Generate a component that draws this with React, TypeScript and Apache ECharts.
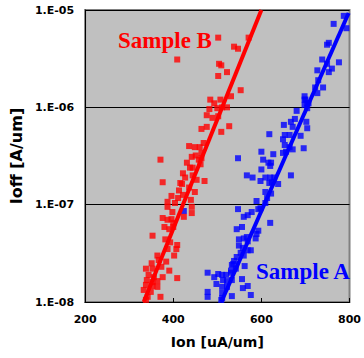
import React, { useEffect, useRef } from "react";
import * as echarts from "echarts";

// Sample A (blue): [Ion uA/um, Ioff A/um]
const sampleA: [number, number][] = [
  [787, 8.7e-6], [764, 7.2e-6], [793, 6.5e-6], [753, 4.6e-6], [749, 4.4e-6],
  [738, 3.1e-6], [776, 2.9e-6], [749, 2.8e-6], [727, 2.4e-6], [760, 2.5e-6],
  [753, 2.3e-6], [729, 1.9e-6], [740, 1.6e-6], [727, 1.4e-6], [722, 1.6e-6],
  [698, 1.3e-6], [698, 1.2e-6], [704, 1.1e-6], [707, 1.1e-6], [700, 1.2e-6],
  [704, 9.8e-7], [698, 1.06e-6], [680, 9.2e-7], [676, 7.6e-7], [667, 7.1e-7],
  [651, 6.6e-7], [671, 6.3e-7], [702, 7.1e-7], [704, 6.1e-7], [618, 5.3e-7],
  [653, 5.2e-7], [664, 5.2e-7], [689, 5.1e-7], [649, 4.7e-7], [653, 4.1e-7],
  [671, 3.7e-7], [696, 3.8e-7], [664, 3.9e-7], [600, 3.5e-7], [627, 3.3e-7],
  [649, 3.4e-7], [656, 3.5e-7], [547, 3.0e-7], [604, 2.9e-7], [622, 2.7e-7],
  [620, 2.5e-7], [616, 2.7e-7], [600, 2.3e-7], [567, 2.0e-7], [580, 1.9e-7],
  [598, 1.75e-7], [609, 1.9e-7], [620, 1.9e-7], [629, 1.9e-7], [667, 2.0e-7],
  [638, 1.63e-7], [624, 1.7e-7], [618, 1.67e-7], [609, 1.35e-7], [622, 1.3e-7],
  [613, 1.17e-7], [589, 1.09e-7], [609, 1.04e-7], [547, 9.0e-8], [598, 9.2e-8],
  [578, 8.4e-8], [569, 7.8e-8], [560, 7.5e-8], [593, 9.0e-8], [620, 6.5e-8],
  [424, 8.6e-8], [544, 5.6e-8], [556, 5.9e-8], [593, 5.4e-8], [589, 5.0e-8],
  [549, 4.4e-8], [560, 4.5e-8], [587, 4.5e-8], [567, 4.65e-8], [569, 4.2e-8],
  [549, 3.8e-8], [558, 3.6e-8], [569, 3.4e-8], [553, 3.2e-8], [544, 2.9e-8],
  [560, 3.0e-8], [576, 3.4e-8], [538, 2.64e-8], [533, 2.4e-8], [562, 2.34e-8],
  [542, 2.2e-8], [536, 2.46e-8], [531, 2.1e-8], [478, 2.0e-8], [502, 1.94e-8],
  [511, 1.9e-8], [520, 1.9e-8], [493, 1.8e-8], [531, 2.0e-8], [498, 1.53e-8],
  [513, 1.68e-8], [522, 1.64e-8], [533, 1.68e-8], [556, 1.72e-8], [511, 1.43e-8],
  [522, 1.43e-8], [558, 1.39e-8], [569, 1.46e-8], [478, 1.27e-8], [511, 1.24e-8],
  [533, 1.15e-8], [576, 1.18e-8], [478, 1.13e-8], [511, 1.1e-8], [509, 1.05e-8],
];

// Sample B (red)
const sampleB: [number, number][] = [
  [409, 3.1e-6], [502, 5.2e-6], [571, 5.2e-6], [538, 4.2e-6], [547, 4.0e-6],
  [504, 2.8e-6], [509, 2.7e-6], [522, 2.3e-6], [502, 2.1e-6], [553, 1.5e-6],
  [484, 1.2e-6], [493, 1.1e-6], [507, 1.2e-6], [531, 1.3e-6], [482, 9.6e-7],
  [500, 9.8e-7], [511, 1.0e-6], [522, 1.0e-6], [476, 8.3e-7], [489, 7.8e-7],
  [502, 8.1e-7], [476, 6.3e-7], [464, 6.0e-7], [509, 5.6e-7], [527, 6.4e-7],
  [469, 4.3e-7], [436, 4.0e-7], [449, 3.9e-7], [460, 3.9e-7], [451, 3.2e-7],
  [442, 3.1e-7], [464, 3.4e-7], [458, 2.9e-7], [464, 3.0e-7], [371, 2.9e-7],
  [431, 2.7e-7], [438, 2.4e-7], [444, 2.4e-7], [462, 2.6e-7], [422, 2.1e-7],
  [427, 1.9e-7], [444, 2.0e-7], [453, 1.8e-7], [471, 1.75e-7], [376, 1.7e-7],
  [416, 1.67e-7], [420, 1.63e-7], [436, 1.5e-7], [413, 1.4e-7], [449, 1.35e-7],
  [396, 1.23e-7], [422, 1.26e-7], [411, 1.17e-7], [440, 1.12e-7], [387, 1.07e-7],
  [404, 1.04e-7], [387, 9.5e-8], [442, 9.5e-8], [398, 8.4e-8], [442, 8.2e-8],
  [424, 7.5e-8], [376, 7.3e-8], [387, 7.0e-8], [396, 7.1e-8], [400, 6.5e-8],
  [380, 5.9e-8], [391, 5.6e-8], [400, 5.9e-8], [353, 4.8e-8], [382, 4.4e-8],
  [393, 4.1e-8], [409, 3.85e-8], [407, 3.5e-8], [387, 3.5e-8], [402, 3.0e-8],
  [364, 3.0e-8], [367, 2.7e-8], [384, 2.6e-8], [351, 2.5e-8], [338, 2.2e-8],
  [353, 2.2e-8], [373, 2.3e-8], [391, 2.1e-8], [344, 1.9e-8], [376, 1.8e-8],
  [409, 1.76e-8], [356, 1.8e-8], [340, 1.68e-8], [353, 1.6e-8], [364, 1.64e-8],
  [338, 1.5e-8], [353, 1.46e-8], [364, 1.43e-8], [333, 1.33e-8], [349, 1.27e-8],
  [371, 1.13e-8], [342, 1.13e-8], [338, 1.05e-8],
];

// Fit lines (end points)
const fitA: [number, number][] = [[509, 1e-8], [798, 9.3e-6]];
const fitB: [number, number][] = [[333, 1e-8], [600, 1e-5]];

const xTicks = [200, 400, 600, 800];
const yTicks = [1e-8, 1e-7, 1e-6, 1e-5];

const seriesNames = ["Sample A", "Sample B"];
const colors = ["#0000ff", "#ff0000"];

const tickFont = '"DejaVu Sans", sans-serif';

export default function App() {
  const ref = useRef<HTMLDivElement>(null);
  useEffect(() => {
    if (!ref.current) return;
    const chart = echarts.init(ref.current, null, { renderer: "svg" });
    chart.setOption({
      animation: false,
      grid: {
        left: 83,
        right: 11,
        top: 10,
        bottom: 56,
        show: true,
        backgroundColor: "#c0c0c0",
        borderColor: "#808080",
        borderWidth: 2,
      },
      xAxis: {
        type: "value",
        min: xTicks[0],
        max: xTicks[xTicks.length - 1],
        interval: 200,
        name: "Ion [uA/um]",
        nameLocation: "middle",
        nameGap: 33,
        nameTextStyle: { fontFamily: tickFont, fontWeight: "bold", fontSize: 14, color: "#000" },
        axisLine: { show: true, onZero: false, lineStyle: { color: "#000", width: 1 } },
        axisTick: { show: true, inside: true, length: 4, lineStyle: { color: "#000" } },
        axisLabel: { margin: 12, fontFamily: tickFont, fontWeight: "bold", fontSize: 11, color: "#000" },
        splitLine: { show: false },
      },
      yAxis: {
        type: "log",
        logBase: 10,
        min: yTicks[0],
        max: yTicks[yTicks.length - 1],
        name: "Ioff [A/um]",
        nameLocation: "middle",
        nameGap: 59,
        nameRotate: 90,
        nameTextStyle: { fontFamily: tickFont, fontWeight: "bold", fontSize: 16, color: "#000" },
        axisLine: { show: true, lineStyle: { color: "#000", width: 1 } },
        axisTick: { show: false },
        axisLabel: {
          margin: 11,
          fontFamily: tickFont,
          fontWeight: "bold",
          fontSize: 11,
          color: "#000",
          formatter: (v: number) => {
            const e = Math.round(Math.log10(v));
            return "1.E-" + String(-e).padStart(2, "0");
          },
        },
        splitLine: { show: true, lineStyle: { color: "#000", width: 1 } },
      },
      series: [
        {
          name: seriesNames[0],
          type: "scatter",
          data: sampleA,
          symbol: "rect",
          symbolSize: 6,
          itemStyle: { color: colors[0] },
        },
        {
          name: seriesNames[1],
          type: "scatter",
          data: sampleB,
          symbol: "rect",
          symbolSize: 6,
          itemStyle: { color: colors[1] },
        },
        {
          type: "line",
          data: fitA,
          showSymbol: false,
          symbol: "none",
          lineStyle: { color: colors[0], width: 4 },
        },
        {
          type: "line",
          data: fitB,
          showSymbol: false,
          symbol: "none",
          lineStyle: { color: colors[1], width: 4 },
        },
      ],
      graphic: [
        {
          type: "text",
          x: 118,
          y: 40,
          style: {
            text: seriesNames[1],
            fill: colors[1],
            font: 'bold 23px "Liberation Serif", serif',
            verticalAlign: "middle",
          },
        },
        {
          type: "text",
          x: 256,
          y: 271,
          style: {
            text: seriesNames[0],
            fill: colors[0],
            font: 'bold 23px "Liberation Serif", serif',
            verticalAlign: "middle",
          },
        },
      ],
    });
    return () => chart.dispose();
  }, []);
  return <div ref={ref} style={{ width: 364, height: 358, position: "absolute", left: 0, top: 0, background: "#fff" }} />;
}
